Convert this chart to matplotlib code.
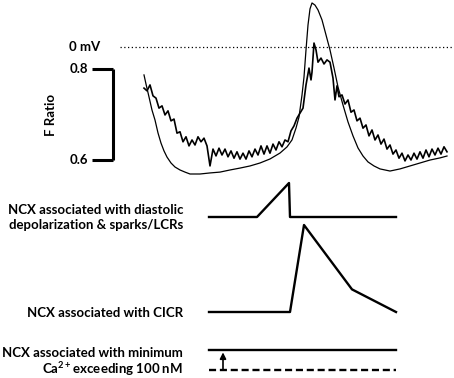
import numpy as np
import matplotlib.pyplot as plt

W, H = 454, 378
plt.rcParams['font.family'] = ['Lato', 'DejaVu Sans']
plt.rcParams['font.weight'] = 'bold'

# Ca2+ transient (F ratio), time in ms
ca_t = [0, 3, 6, 9, 12, 15, 18, 21, 24, 27, 30, 33, 36, 39, 42, 45, 48, 51, 54, 57,
        60, 63, 66, 69, 72, 75, 78, 81, 84, 87, 90, 93, 96, 99, 102, 105, 108, 111, 114, 117,
        120, 123, 126, 129, 132, 135, 138, 141, 144, 147, 150, 153, 156, 159, 162, 165, 167, 168, 170, 172,
        174, 177, 180, 183, 186, 189, 191, 193, 195, 198, 201, 204, 207, 210, 213, 216, 219, 222, 225, 228,
        231, 234, 237, 240, 243, 246, 249, 252, 255, 258, 261, 264, 267, 270, 273, 276, 279, 282, 285, 288,
        291, 294, 297, 300, 303]
ca_f = [0.758, 0.752, 0.765, 0.741, 0.736, 0.714, 0.719, 0.699, 0.708, 0.686, 0.690, 0.659, 0.662, 0.640, 0.651, 0.631, 0.644, 0.633, 0.651, 0.640,
        0.648, 0.631, 0.587, 0.624, 0.609, 0.626, 0.611, 0.624, 0.607, 0.620, 0.604, 0.618, 0.602, 0.615, 0.602, 0.620, 0.607, 0.624, 0.611, 0.631,
        0.613, 0.631, 0.615, 0.635, 0.622, 0.640, 0.629, 0.644, 0.640, 0.664, 0.675, 0.692, 0.703, 0.714, 0.765, 0.802, 0.776, 0.793, 0.857, 0.842,
        0.815, 0.824, 0.811, 0.820, 0.815, 0.780, 0.732, 0.763, 0.739, 0.743, 0.723, 0.732, 0.705, 0.710, 0.686, 0.692, 0.670, 0.677, 0.653, 0.666,
        0.644, 0.655, 0.635, 0.646, 0.624, 0.633, 0.613, 0.622, 0.604, 0.615, 0.598, 0.611, 0.600, 0.615, 0.602, 0.618, 0.604, 0.622, 0.607, 0.624,
        0.611, 0.626, 0.613, 0.629, 0.618]

# action potential (mV)
ap_t = [0, 2, 5, 8, 11, 14, 17, 20, 23, 27, 31, 36, 41, 46, 56, 66, 76, 86, 96, 106,
        116, 126, 136, 143, 148, 152, 155, 158, 160, 162, 164, 166, 168, 171, 174, 178, 182, 186, 190, 194,
        199, 204, 209, 214, 219, 224, 230, 236, 246, 256, 266, 276, 286, 296, 303]
ap_mv = [-13.2, -17.5, -23.6, -29.8, -34.5, -40.6, -45.4, -49.1, -52.0, -54.8, -56.7, -58.1, -59.1, -60.0, -60.0, -59.5, -59.1, -58.1, -57.2, -56.2,
         -54.8, -52.9, -50.1, -47.2, -43.9, -38.3, -33.1, -22.7, -14.2, -1.4, 10.4, 18.0, 20.8, 19.8, 17.5, 12.8, 5.7, -1.4, -9.9, -18.9,
         -27.4, -35.4, -42.0, -47.7, -51.5, -54.3, -56.2, -57.6, -58.6, -57.6, -56.2, -54.8, -53.4, -52.4, -51.5]

scale_bar = [0.6, 0.8]

# schematic NCX currents (relative amplitude)
ncx1_t = [65, 113, 145, 146, 252]
ncx1_a = [0, 0, 1, 0, 0]
ncx2_t = [65, 146, 160, 208, 252]
ncx2_a = [0, 0, 1, 0.26, 0]
ncx3_t = [65, 252]
ncx3_level = 1
ncx3_base = 0
arrow_t = 79

XLIM = (-144, 310)  # 1 ms per pixel
FS = 9.5

fig = plt.figure(figsize=(W / 100, H / 100), dpi=100)

# --- top traces ---
top, bot = 0, 190
ax = fig.add_axes([0, 1 - bot / H, 1, (bot - top) / H])
ax.set_xlim(*XLIM)
px_per_f = 91 / 0.2
ax.set_ylim(0.6 - (bot - 160) / px_per_f, 0.6 + 160 / px_per_f)
ax.plot(ca_t, ca_f, color='black', lw=1.2)
ax.plot([-31, -31], scale_bar, color='black', lw=2.2, solid_capstyle='butt')
ax.hlines(scale_bar, -52, -31, color='black', lw=2.2)
ax.text(-56, scale_bar[1], '0.8', ha='right', va='center', fontsize=FS)
ax.text(-56, scale_bar[0], '0.6', ha='right', va='center', fontsize=FS)
ax.text(-93, np.mean(scale_bar), 'F Ratio', rotation=90, ha='center', va='center', fontsize=FS)
ax.axis('off')

ax2 = fig.add_axes([0, 1 - bot / H, 1, (bot - top) / H])
ax2.set_xlim(*XLIM)
px_per_mv = 127 / 60
ax2.set_ylim(-(bot - 47) / px_per_mv, 47 / px_per_mv)
ax2.plot(ap_t, ap_mv, color='black', lw=0.9)
ax2.hlines(0, -24, 310, color='black', lw=0.9, linestyles=(0, (1, 2)))
ax2.text(-44, 0, '0 mV', ha='right', va='center', fontsize=FS)
ax2.axis('off')


def panel(base_px, peak_px):
    h = base_px - peak_px
    pad = 6
    a = fig.add_axes([0, 1 - (base_px + pad) / H, 1, (h + 2 * pad) / H])
    a.set_xlim(*XLIM)
    a.set_ylim(-pad / h, 1 + pad / h)
    a.axis('off')
    return a


p1 = panel(217, 183)
p1.plot(ncx1_t, ncx1_a, color='black', lw=1.7)
p2 = panel(312, 225)
p2.plot(ncx2_t, ncx2_a, color='black', lw=1.7)
p3 = panel(370, 350)
p3.plot(ncx3_t, [ncx3_level] * 2, color='black', lw=1.7)
p3.plot(ncx3_t, [ncx3_base] * 2, color='black', lw=1.7, linestyle=(0, (3, 1.6)))
p3.annotate('', xy=(arrow_t, 0.88), xytext=(arrow_t, 0.0),
            arrowprops=dict(arrowstyle='-|>', color='black', lw=1.2, mutation_scale=9,
                            shrinkA=0, shrinkB=0))

labels = [('NCX associated with diastolic', 210),
          ('depolarization & sparks/LCRs', 225),
          ('NCX associated with CICR', 313),
          ('NCX associated with minimum', 353),
          ('Ca$^{\\mathregular{2+}}$exceeding 100 nM', 369.5)]
for s, y in labels:
    fig.text(183 / W, 1 - y / H, s, ha='right', va='center', fontsize=FS)

fig.savefig('out.png', dpi=100)
